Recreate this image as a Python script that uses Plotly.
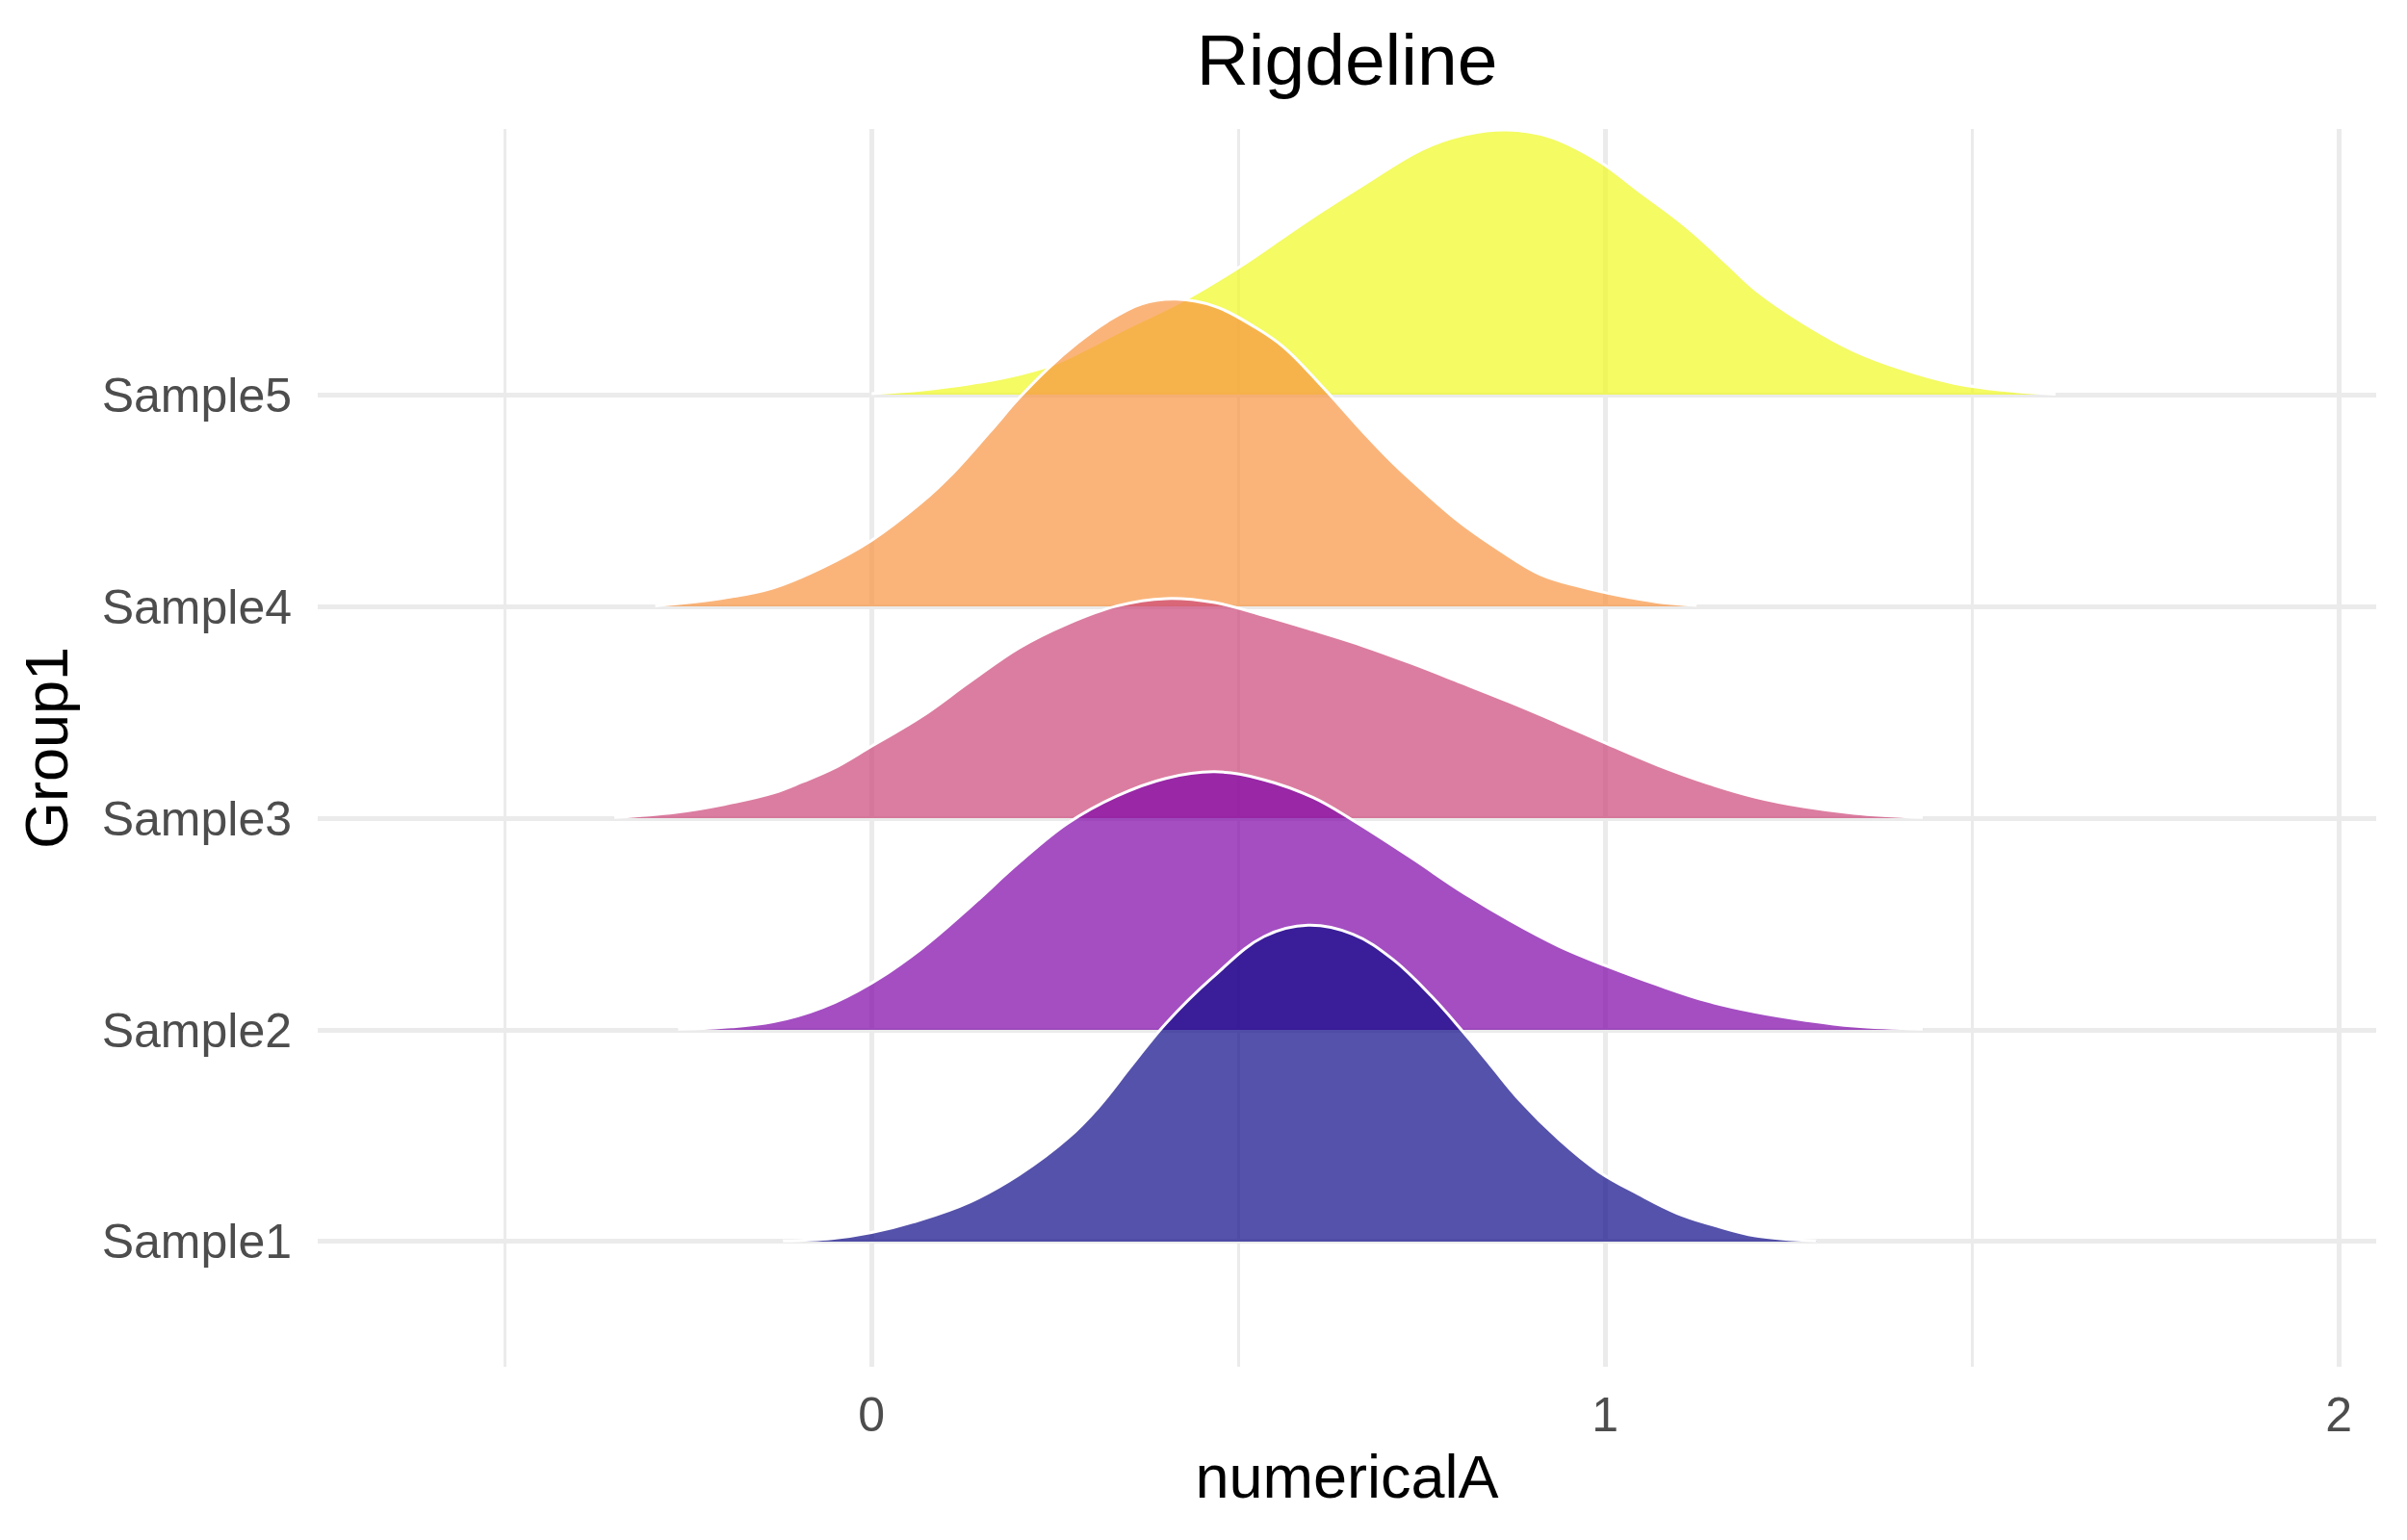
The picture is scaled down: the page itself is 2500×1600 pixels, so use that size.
import plotly.graph_objects as go

# Ridgeline densities.
# x values are in numericalA units, heights in "row" units above each baseline.
groups = ["Sample1", "Sample2", "Sample3", "Sample4", "Sample5"]
colors = ["#0D0887", "#7E03A8", "#CC4678", "#F89441", "#F0F921"]

s1_x = [-0.121, -0.054, 0.0, 0.067, 0.134, 0.201, 0.268, 0.308, 0.354, 0.401, 0.468,
        0.535, 0.595, 0.656, 0.710, 0.763, 0.804, 0.844, 0.884, 0.937, 0.991, 1.045,
        1.098, 1.152, 1.205, 1.288]
s1_h = [0.003, 0.015, 0.043, 0.103, 0.187, 0.316, 0.490, 0.630, 0.830, 1.030, 1.258,
        1.441, 1.494, 1.452, 1.335, 1.160, 1.000, 0.833, 0.666, 0.483, 0.331, 0.225,
        0.134, 0.073, 0.027, 0.003]

s2_x = [-0.264, -0.201, -0.134, -0.067, 0.0, 0.067, 0.134, 0.201, 0.267, 0.334, 0.401,
        0.468, 0.535, 0.602, 0.656, 0.737, 0.804, 0.870, 0.937, 1.000, 1.071, 1.138,
        1.205, 1.272, 1.339, 1.433]
s2_h = [0.003, 0.012, 0.038, 0.105, 0.221, 0.381, 0.579, 0.790, 0.975, 1.104, 1.188,
        1.219, 1.181, 1.097, 0.990, 0.810, 0.654, 0.517, 0.395, 0.304, 0.213, 0.137,
        0.084, 0.046, 0.018, 0.003]

s3_x = [-0.351, -0.267, -0.201, -0.134, -0.094, -0.053, 0.0, 0.067, 0.134, 0.201, 0.267,
        0.334, 0.401, 0.468, 0.535, 0.602, 0.670, 0.737, 0.804, 0.870, 0.937, 1.000,
        1.071, 1.138, 1.205, 1.272, 1.339, 1.433]
s3_h = [0.003, 0.027, 0.065, 0.119, 0.172, 0.233, 0.340, 0.477, 0.644, 0.804, 0.918,
        1.002, 1.037, 1.018, 0.957, 0.888, 0.814, 0.730, 0.639, 0.548, 0.450, 0.355,
        0.251, 0.167, 0.099, 0.053, 0.023, 0.003]

s4_x = [-0.295, -0.201, -0.134, -0.067, 0.0, 0.067, 0.107, 0.161, 0.201, 0.241, 0.281,
        0.321, 0.368, 0.415, 0.469, 0.522, 0.562, 0.616, 0.670, 0.710, 0.750, 0.804,
        0.857, 0.911, 0.964, 1.018, 1.071, 1.125]
s4_h = [0.003, 0.040, 0.088, 0.184, 0.312, 0.488, 0.616, 0.824, 0.984, 1.125, 1.245,
        1.345, 1.429, 1.451, 1.416, 1.320, 1.224, 1.032, 0.824, 0.680, 0.552, 0.392,
        0.264, 0.152, 0.095, 0.052, 0.021, 0.005]

s5_x = [0.0, 0.067, 0.134, 0.201, 0.241, 0.268, 0.348, 0.435, 0.509, 0.589, 0.670,
        0.750, 0.804, 0.865, 0.924, 0.991, 1.045, 1.112, 1.165, 1.205, 1.272, 1.339,
        1.406, 1.473, 1.540, 1.614]
s5_h = [0.005, 0.022, 0.051, 0.096, 0.135, 0.175, 0.315, 0.464, 0.620, 0.810, 0.990,
        1.158, 1.224, 1.250, 1.218, 1.104, 0.965, 0.790, 0.624, 0.496, 0.336, 0.208,
        0.120, 0.056, 0.022, 0.003]

ridges = [(s1_x, s1_h), (s2_x, s2_h), (s3_x, s3_h), (s4_x, s4_h), (s5_x, s5_h)]

x_ticks = [0, 1, 2]

FONT = "Liberation Sans, Arial, sans-serif"
GRID = "#EBEBEB"

# page body has an 8px margin, so the figure is a bit smaller than the window
W, H = 2484, 1584


def rgba(hex_color, alpha):
    h = hex_color.lstrip("#")
    r, g, b = int(h[0:2], 16), int(h[2:4], 16), int(h[4:6], 16)
    return f"rgba({r},{g},{b},{alpha})"


fig = go.Figure()

# top ridge first so the lower ridges overlap the upper ones (like ggridges)
for i in reversed(range(len(groups))):
    xs, hs = ridges[i]
    pos = i + 1
    # baseline that the ridge fills down to
    fig.add_trace(
        go.Scatter(
            x=[xs[0], xs[-1]],
            y=[pos, pos],
            mode="lines",
            line=dict(width=0, color=rgba(colors[i], 0)),
            hoverinfo="skip",
            showlegend=False,
        )
    )
    fig.add_trace(
        go.Scatter(
            x=xs,
            y=[pos + h for h in hs],
            mode="lines",
            fill="tonexty",
            fillcolor=rgba(colors[i], 0.7),
            line=dict(width=3, shape="spline", smoothing=1.1, color="white"),
            name=groups[i],
            showlegend=False,
        )
    )

fig.update_layout(
    width=W,
    height=H,
    margin=dict(l=322, r=24, t=126, b=172),
    paper_bgcolor="white",
    plot_bgcolor="white",
    font=dict(family=FONT, color="#4D4D4D"),
    title=dict(
        text="Rigdeline",
        x=0.5,
        xref="paper",
        xanchor="center",
        y=1 - 54 / H,
        yref="container",
        yanchor="middle",
        font=dict(size=75, color="black", family=FONT),
    ),
)

fig.update_xaxes(
    range=[-0.755, 2.051],
    tickvals=x_ticks,
    ticktext=[str(v) for v in x_ticks],
    tickfont=dict(size=50, color="#4D4D4D"),
    showgrid=True,
    gridcolor=GRID,
    gridwidth=5,
    minor=dict(dtick=0.5, tick0=0, showgrid=True, gridcolor=GRID, gridwidth=2.5),
    zeroline=False,
    showline=False,
    ticks="",
    ticklabelstandoff=16,
    title=dict(text="numericalA", font=dict(size=63, color="black"), standoff=14),
)

fig.update_yaxes(
    range=[0.409, 6.255],
    tickvals=[1, 2, 3, 4, 5],
    ticktext=groups,
    tickfont=dict(size=50, color="#4D4D4D"),
    showgrid=True,
    gridcolor=GRID,
    gridwidth=5,
    zeroline=False,
    showline=False,
    ticks="",
    ticklabelstandoff=26,
    title=dict(text="Group1", font=dict(size=63, color="black"), standoff=14),
)

fig.write_html("out.html")
